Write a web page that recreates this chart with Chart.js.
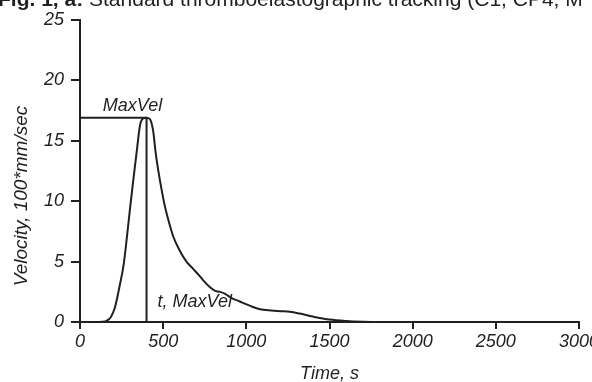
<!DOCTYPE html>
<html>
<head>
<meta charset="utf-8">
<script src="https://cdn.jsdelivr.net/npm/chart.js@4.4.1/dist/chart.umd.min.js"></script>
<style>
html,body{margin:0;padding:0;background:#fff;}
#wrap{position:relative;width:592px;height:382px;}
</style>
</head>
<body>
<div id="wrap"><canvas id="c" width="592" height="382"></canvas></div>
<script>
// ---- data ----
const timeS = [0, 100, 130, 160, 185, 210, 240, 262, 281, 300, 320, 340, 361, 380, 400, 420, 440, 455, 470, 490, 510, 530, 560, 600, 640, 680, 720, 741, 780, 810, 840, 870, 910, 960, 1020, 1082, 1150, 1210, 1262, 1320, 1400, 1500, 1600, 1700, 1800, 3000];
const velocity = [0, 0, 0.02, 0.1, 0.4, 1.2, 3.1, 4.7, 6.9, 9.3, 11.7, 14.0, 16.3, 16.85, 16.9, 16.8, 15.8, 14.0, 12.6, 11.0, 9.6, 8.5, 7.1, 5.9, 5.0, 4.4, 3.8, 3.45, 2.9, 2.6, 2.5, 2.35, 2.0, 1.7, 1.35, 1.05, 0.95, 0.9, 0.85, 0.7, 0.45, 0.2, 0.08, 0.02, 0, 0];
const maxVelTime = 400;
const maxVelValue = 16.9;
const xTicks = [0, 500, 1000, 1500, 2000, 2500, 3000];
const yTicks = [0, 5, 10, 15, 20, 25];
const labelMaxVel = "MaxVel";
const labelTMaxVel = "t, MaxVel";
const xTitle = "Time, s";
const yTitle = "Velocity, 100*mm/sec";
const titleBold = "Fig. 1, a:";
const titleRest = " Standard thromboelastographic tracking (C1, CP4, M";

const INK = '#231f20';
const FONT = '"Liberation Sans", Arial, sans-serif';

const curve = timeS.map((t, i) => ({x: t, y: velocity[i]}));
const hLine = [{x: 0, y: maxVelValue}, {x: maxVelTime, y: maxVelValue}];
const vLine = [{x: maxVelTime, y: 0}, {x: maxVelTime, y: maxVelValue}];

const textPlugin = {
  id: 'texts',
  afterDraw(chart) {
    const ctx = chart.ctx;
    const xs = chart.scales.x, ys = chart.scales.y;
    ctx.save();
    ctx.fillStyle = INK;
    // title (cut at top as in reference)
    ctx.textBaseline = 'alphabetic';
    ctx.textAlign = 'left';
    ctx.font = 'bold 21px "Liberation Sans", Arial, sans-serif';
    ctx.fillText(titleBold, -2, 6);
    const w = ctx.measureText(titleBold).width;
    ctx.font = '21px "Liberation Sans", Arial, sans-serif';
    ctx.fillText(titleRest, -2 + w, 6);
    // annotations
    ctx.font = 'italic 18px ' + FONT;
    ctx.textAlign = 'center';
    ctx.fillText(labelMaxVel, xs.getPixelForValue(maxVelTime) - 14, ys.getPixelForValue(maxVelValue) - 7);
    ctx.textAlign = 'left';
    ctx.fillText(labelTMaxVel, xs.getPixelForValue(maxVelTime) + 11, ys.getPixelForValue(0) - 15);
    // axis titles
    ctx.textAlign = 'center';
    ctx.fillText(xTitle, (chart.chartArea.left + chart.chartArea.right) / 2, 379);
    ctx.font = 'italic 19px ' + FONT;
    ctx.translate(27, 196);
    ctx.rotate(-Math.PI / 2);
    ctx.fillText(yTitle, 0, 0);
    ctx.restore();
  }
};

new Chart(document.getElementById('c'), {
  type: 'line',
  data: {
    datasets: [
      {data: curve, borderColor: INK, borderWidth: 2, pointRadius: 0, cubicInterpolationMode: 'monotone', fill: false},
      {data: hLine, borderColor: INK, borderWidth: 2, pointRadius: 0, tension: 0, fill: false},
      {data: vLine, borderColor: INK, borderWidth: 2, pointRadius: 0, tension: 0, fill: false}
    ]
  },
  options: {
    responsive: false,
    animation: false,
    events: [],
    layout: {padding: {left: 0, right: 13, top: 20, bottom: 0}},
    plugins: {legend: {display: false}, tooltip: {enabled: false}, title: {display: false}},
    scales: {
      x: {
        type: 'linear', min: 0, max: 3000,
        afterBuildTicks: s => { s.ticks = xTicks.map(v => ({value: v})); },
        afterFit: s => { s.height = 60; s.paddingLeft = 0; s.paddingRight = 0; },
        border: {display: true, color: INK, width: 2},
        grid: {display: true, drawOnChartArea: false, drawTicks: true, tickLength: 7, color: INK, lineWidth: 2},
        ticks: {color: INK, padding: 2, maxRotation: 0, autoSkip: false, callback: v => String(v), font: {family: FONT, size: 18, style: 'italic'}}
      },
      y: {
        type: 'linear', min: 0, max: 25,
        afterBuildTicks: s => { s.ticks = yTicks.map(v => ({value: v})); },
        afterFit: s => { s.width = 80; s.paddingTop = 0; s.paddingBottom = 0; },
        border: {display: true, color: INK, width: 2},
        grid: {display: true, drawOnChartArea: false, drawTicks: true, tickLength: 9, color: INK, lineWidth: 2},
        ticks: {color: INK, padding: 7, callback: v => String(v), font: {family: FONT, size: 18, style: 'italic'}}
      }
    }
  },
  plugins: [textPlugin]
});
</script>
</body>
</html>
